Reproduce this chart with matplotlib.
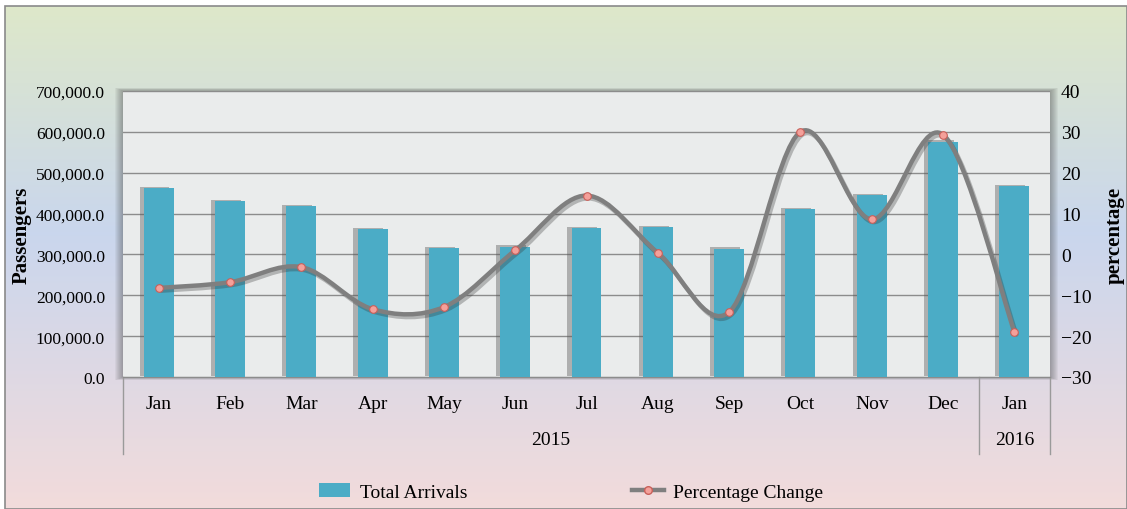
import numpy as np
import matplotlib
matplotlib.use("Agg")
import matplotlib.pyplot as plt
from matplotlib.path import Path
from matplotlib.patches import PathPatch, Rectangle, Patch
from matplotlib.lines import Line2D
from matplotlib.ticker import FuncFormatter
import matplotlib.patheffects as pe
import matplotlib.transforms as mtransforms

plt.rcParams['font.family'] = ['Liberation Serif', 'DejaVu Serif']

#------------------------------------------------
# Data
#------------------------------------------------
months = ['Jan', 'Feb', 'Mar', 'Apr', 'May', 'Jun', 'Jul',
          'Aug', 'Sep', 'Oct', 'Nov', 'Dec', 'Jan']
years = ['2015', '2016']
year_spans = [(0, 11), (12, 12)]  # first and last month index of each year

arrivals = [461600, 431000, 418000, 362000, 316000, 319000, 364000,
            367000, 314500, 410000, 445000, 576000, 467000]
pct_change = [-8.2, -6.8, -3.1, -13.4, -12.9, 1.0, 14.4,
              0.4, -14.1, 30.0, 8.6, 29.3, -18.9]

W, H = 1127, 510
fig = plt.figure(figsize=(W / 100, H / 100), dpi=100)

#------------------------------------------------
# Background: gradient (green -> blue -> pink) in pixel coords
#------------------------------------------------
bg = fig.add_axes([0, 0, 1, 1], zorder=-5)
bg.set_xlim(0, W)
bg.set_ylim(H, 0)
bg.axis('off')
stops = np.array([0.0, 0.45, 1.0])
cols = np.array([[0.87, 0.91, 0.79],
                 [0.79, 0.84, 0.93],
                 [0.95, 0.86, 0.86]])
t = np.linspace(0, 1, 256)
grad = np.stack([np.interp(t, stops, cols[:, c]) for c in range(3)], axis=1)
bg.imshow(grad[:, None, :], extent=[5, W, H, 7], aspect='auto', zorder=0)
bg.add_patch(Rectangle((5, 7), W - 5, H - 7, fill=False, ec='#8a8a8a', lw=1.2, zorder=1))

# soft shadow round the plot area
px0, px1, py0, py1 = 123, 1050, 92, 378
for k in range(1, 9):
    bg.add_patch(Rectangle((px0 - k, py0 - k * 0.4), (px1 - px0) + 2 * k, (py1 - py0) + k * 0.8,
                           fc='#404040', ec='none', alpha=0.06, zorder=2))

#------------------------------------------------
# Main axes
#------------------------------------------------
ax = fig.add_axes([px0 / W, 1 - py1 / H, (px1 - px0) / W, (py1 - py0) / H], zorder=0)
ax.set_facecolor('#eaecec')
x = np.arange(len(months))
bars = ax.bar(x, arrivals, width=0.42, color='#4bacc6', zorder=3)
for b in bars:
    b.set_path_effects([pe.SimplePatchShadow(offset=(-3, 1), shadow_rgbFace='#555555', alpha=0.4),
                        pe.Normal()])

ax.set_xlim(-0.5, len(months) - 0.5)
ax.set_ylim(0, 700000)
ax.set_yticks(np.arange(0, 700001, 100000))
ax.yaxis.set_major_formatter(FuncFormatter(lambda v, p: f'{v:,.1f}'))
ax.grid(axis='y', color='#8c8c8c', lw=1.0, zorder=1)
ax.set_axisbelow(True)
ax.set_xticks(x)
ax.set_xticklabels(months, fontsize=14)
ax.tick_params(axis='x', length=0, pad=13)
ax.tick_params(axis='y', length=0, labelsize=12.5, pad=13)
for s in ['top', 'left', 'right']:
    ax.spines[s].set_visible(False)
ax.spines['bottom'].set_color('#8c8c8c')
ax.set_ylabel('Passengers', fontsize=15, fontweight='bold', labelpad=3)

# two-level category axis: year labels and separators
trans = mtransforms.blended_transform_factory(ax.transData, ax.transAxes)
for yr, (i0, i1) in zip(years, year_spans):
    ax.text((i0 + i1) / 2, -0.217, yr, transform=trans, ha='center', va='center', fontsize=14)
for xs in [-0.5, 11.5, 12.5]:
    ax.plot([xs, xs], [0, -0.27], transform=trans, color='#9a9a9a', lw=1, clip_on=False)

#------------------------------------------------
# Secondary axis: smoothed percentage line
#------------------------------------------------
ax2 = ax.twinx()
ax2.set_ylim(-30, 40)
ax2.set_yticks(np.arange(-30, 41, 10))
ax2.tick_params(axis='y', length=0, labelsize=14, pad=8)
for s in ax2.spines.values():
    s.set_visible(False)
ax2.set_ylabel('percentage', fontsize=15, fontweight='bold', labelpad=9)

pts = np.column_stack([x, pct_change]).astype(float)
ext = np.vstack([pts[0], pts, pts[-1]])
verts = [tuple(pts[0])]
codes = [Path.MOVETO]
for i in range(len(pts) - 1):
    p0, p1, p2, p3 = ext[i], ext[i + 1], ext[i + 2], ext[i + 3]
    c1 = p1 + (p2 - p0) / 6
    c2 = p2 - (p3 - p1) / 6
    verts += [tuple(c1), tuple(c2), tuple(p2)]
    codes += [Path.CURVE4] * 3
curve = PathPatch(Path(verts, codes), fill=False, ec='#7f7f7f', lw=3.2, zorder=4,
                  capstyle='round', joinstyle='round')
curve.set_path_effects([pe.SimpleLineShadow(offset=(1.5, -2), shadow_color='#333333', alpha=0.3),
                        pe.Normal()])
ax2.add_patch(curve)
ax2.plot(x, pct_change, ls='none', marker='o', ms=5.5, mfc='#f4a09a', mec='#c8605a', mew=0.8, zorder=5)

#------------------------------------------------
# Legend
#------------------------------------------------
handles = [Patch(fc='#4bacc6', ec='none'),
           Line2D([], [], color='#7f7f7f', lw=3.2, marker='o', ms=5.5, mfc='#f4a09a', mec='#c8605a')]
fig.legend(handles, ['Total Arrivals', 'Percentage Change'], loc='center',
           bbox_to_anchor=(571 / W, 1 - 493 / H), ncol=2, frameon=False, fontsize=14,
           columnspacing=8.5, handlelength=1.6, handletextpad=0.5)

fig.savefig('out.png', dpi=100)
